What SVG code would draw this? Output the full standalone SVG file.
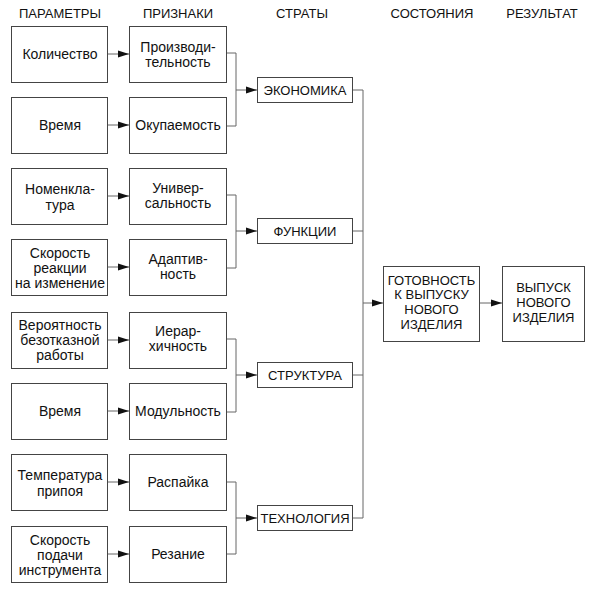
<svg xmlns="http://www.w3.org/2000/svg" width="600" height="591" viewBox="0 0 600 591">
<style>
text{font-family:"Liberation Sans",Arial,sans-serif;font-size:14px;fill:#111;text-anchor:middle}
.u{font-size:13px}
.box{fill:#fff;stroke:#444;stroke-width:1}
.c{fill:none;stroke:#666;stroke-width:1}
</style>
<defs>
<marker id="ah" markerUnits="userSpaceOnUse" markerWidth="12" markerHeight="8" refX="11" refY="4" orient="auto">
<path d="M0,0.5 L11,4 L0,7.5 z" fill="#111"/>
</marker>
</defs>
<rect width="600" height="591" fill="#fff"/>
<g id="headers">
<text class="u" x="60" y="18">ПАРАМЕТРЫ</text>
<text class="u" x="178" y="18">ПРИЗНАКИ</text>
<text class="u" x="302" y="18">СТРАТЫ</text>
<text class="u" x="432" y="18">СОСТОЯНИЯ</text>
<text class="u" x="542" y="18">РЕЗУЛЬТАТ</text>
</g>
<g id="connectors">
<line class="c" x1="108" y1="54" x2="129" y2="54" marker-end="url(#ah)"/>
<line class="c" x1="108" y1="125" x2="129" y2="125" marker-end="url(#ah)"/>
<line class="c" x1="108" y1="196" x2="129" y2="196" marker-end="url(#ah)"/>
<line class="c" x1="108" y1="267" x2="129" y2="267" marker-end="url(#ah)"/>
<line class="c" x1="108" y1="340" x2="129" y2="340" marker-end="url(#ah)"/>
<line class="c" x1="108" y1="411" x2="129" y2="411" marker-end="url(#ah)"/>
<line class="c" x1="108" y1="482" x2="129" y2="482" marker-end="url(#ah)"/>
<line class="c" x1="108" y1="554" x2="129" y2="554" marker-end="url(#ah)"/>
<path class="c" d="M227,53 H236 V126 H227"/>
<line class="c" x1="236" y1="90" x2="257" y2="90" marker-end="url(#ah)"/>
<path class="c" d="M227,195 H236 V268 H227"/>
<line class="c" x1="236" y1="231" x2="257" y2="231" marker-end="url(#ah)"/>
<path class="c" d="M227,339 H236 V412 H227"/>
<line class="c" x1="236" y1="375" x2="257" y2="375" marker-end="url(#ah)"/>
<path class="c" d="M227,482 H236 V554 H227"/>
<line class="c" x1="236" y1="518" x2="257" y2="518" marker-end="url(#ah)"/>
<path class="c" d="M353,90 H363 V518 H353"/>
<line class="c" x1="353" y1="231" x2="363" y2="231"/>
<line class="c" x1="353" y1="375" x2="363" y2="375"/>
<line class="c" x1="363" y1="303" x2="383" y2="303" marker-end="url(#ah)"/>
<line class="c" x1="480" y1="303" x2="502" y2="303" marker-end="url(#ah)"/>
</g>
<g id="p1"><rect class="box" x="11.5" y="26.5" width="96" height="56"/><text x="60" y="59">Количество</text></g>
<g id="p2"><rect class="box" x="11.5" y="97.5" width="96" height="56"/><text x="60" y="130">Время</text></g>
<g id="p3"><rect class="box" x="11.5" y="168.5" width="96" height="56"/><text x="60" y="194">Номенкла-</text><text x="60" y="210">тура</text></g>
<g id="p4"><rect class="box" x="11.5" y="239.5" width="96" height="56"/><text x="60" y="258">Скорость</text><text x="60" y="273">реакции</text><text x="60" y="288">на изменение</text></g>
<g id="p5"><rect class="box" x="11.5" y="312.5" width="96" height="56"/><text x="60" y="330">Вероятность</text><text x="60" y="345">безотказной</text><text x="60" y="360">работы</text></g>
<g id="p6"><rect class="box" x="11.5" y="383.5" width="96" height="56"/><text x="60" y="416">Время</text></g>
<g id="p7"><rect class="box" x="11.5" y="454.5" width="96" height="56"/><text x="60" y="480">Температура</text><text x="60" y="496">припоя</text></g>
<g id="p8"><rect class="box" x="11.5" y="526.5" width="96" height="56"/><text x="60" y="545">Скорость</text><text x="60" y="560">подачи</text><text x="60" y="575">инструмента</text></g>
<g id="s1"><rect class="box" x="129.5" y="26.5" width="97" height="56"/><text x="178" y="52">Производи-</text><text x="178" y="67">тельность</text></g>
<g id="s2"><rect class="box" x="129.5" y="97.5" width="97" height="56"/><text x="178" y="130">Окупаемость</text></g>
<g id="s3"><rect class="box" x="129.5" y="168.5" width="97" height="56"/><text x="178" y="193">Универ-</text><text x="178" y="208">сальность</text></g>
<g id="s4"><rect class="box" x="129.5" y="239.5" width="97" height="56"/><text x="178" y="264">Адаптив-</text><text x="178" y="279">ность</text></g>
<g id="s5"><rect class="box" x="129.5" y="312.5" width="97" height="56"/><text x="178" y="336">Иерар-</text><text x="178" y="351">хичность</text></g>
<g id="s6"><rect class="box" x="129.5" y="383.5" width="97" height="56"/><text x="178" y="416">Модульность</text></g>
<g id="s7"><rect class="box" x="129.5" y="454.5" width="97" height="56"/><text x="178" y="487">Распайка</text></g>
<g id="s8"><rect class="box" x="129.5" y="526.5" width="97" height="56"/><text x="178" y="559">Резание</text></g>
<g id="economy"><rect class="box" x="257.5" y="77.5" width="95" height="25"/><text class="u" x="305" y="95">ЭКОНОМИКА</text></g>
<g id="functions"><rect class="box" x="257.5" y="218.5" width="95" height="25"/><text class="u" x="305" y="236">ФУНКЦИИ</text></g>
<g id="structure"><rect class="box" x="257.5" y="362.5" width="95" height="25"/><text class="u" x="305" y="380">СТРУКТУРА</text></g>
<g id="technology"><rect class="box" x="257.5" y="505.5" width="95" height="25"/><text class="u" x="305" y="523">ТЕХНОЛОГИЯ</text></g>
<g id="readiness"><rect class="box" x="383.5" y="266.5" width="96" height="75"/><text class="u" x="431.5" y="285">ГОТОВНОСТЬ</text><text class="u" x="431.5" y="299">К ВЫПУСКУ</text><text class="u" x="431.5" y="314">НОВОГО</text><text class="u" x="431.5" y="329">ИЗДЕЛИЯ</text></g>
<g id="result"><rect class="box" x="502.5" y="266.5" width="82" height="75"/><text class="u" x="543.5" y="292">ВЫПУСК</text><text class="u" x="543.5" y="307">НОВОГО</text><text class="u" x="543.5" y="322">ИЗДЕЛИЯ</text></g>
</svg>
